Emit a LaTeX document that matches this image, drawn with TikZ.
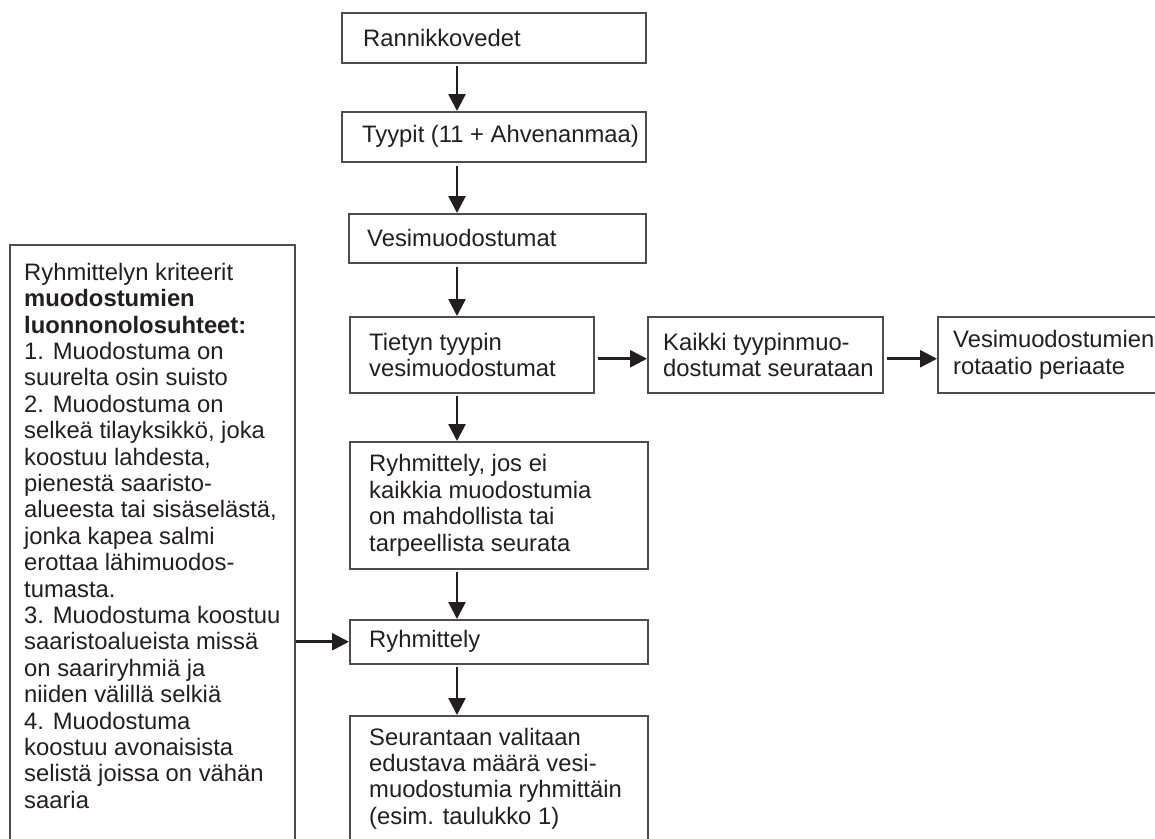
\documentclass[tikz,border=0pt]{standalone}
\usepackage{fontspec}
\setmainfont{Liberation Sans}
\usetikzlibrary{arrows.meta}
\definecolor{boxc}{HTML}{4D4D4D}
\definecolor{txtc}{HTML}{231F20}
\begin{document}
\begin{tikzpicture}[x=1pt,y=-1pt,
  box/.style={draw=boxc, line width=1.5pt, rectangle, inner sep=0pt, anchor=north west},
  txt/.style={inner sep=0pt, align=left, text=txtc, font=\fontsize{23.8}{26.4}\selectfont},
  arr/.style={draw=txtc, line width=2.6pt, -{Triangle[width=17pt,length=17pt]}}]
\fill[white] (0,0) rectangle (1155,838);
\useasboundingbox (0,0) rectangle (1155,838);
\coordinate (ax) at (457,0);
% boxes
\node[box, minimum width=304pt, minimum height=50pt] (rann) at (341,12) {};
\node[box, minimum width=304pt, minimum height=50pt] (tyyp) at (341,111) {};
\node[box, minimum width=297pt, minimum height=49pt] (vesi) at (348,213) {};
\node[box, minimum width=244pt, minimum height=76pt] (tiet) at (349,316) {};
\node[box, minimum width=235pt, minimum height=76pt] (kaik) at (647,316) {};
\node[box, minimum width=240pt, minimum height=76pt] (rot) at (937,316) {};
\node[box, minimum width=298pt, minimum height=127pt] (ryhj) at (349,441) {};
\node[box, minimum width=298pt, minimum height=44pt] (ryhm) at (349,619) {};
\node[box, minimum width=298pt, minimum height=160pt] (seur) at (349,715) {};
\node[box, minimum width=285pt, minimum height=640pt] (crit) at (9,244) {};
% texts
\node[txt, anchor=west] (t-rann) at ([xshift=22pt]rann.west) {Rannikkovedet};
\node[txt, anchor=west] (t-tyyp) at ([xshift=21pt]tyyp.west) {Tyypit (11 + Ahvenanmaa)};
\node[txt, anchor=west] (t-vesi) at ([xshift=19pt]vesi.west) {Vesimuodostumat};
\node[txt, anchor=west] (t-tiet) at ([xshift=20pt]tiet.west) {Tietyn tyypin\\vesimuodostumat};
\node[txt, anchor=west] (t-kaik) at ([xshift=16pt]kaik.west) {Kaikki tyypinmuo-\\dostumat seurataan};
\node[txt, anchor=west] (t-rot) at ([xshift=16pt]rot.west) {Vesimuodostumien\\rotaatio periaate};
\node[txt, anchor=west] (t-ryhj) at ([xshift=20pt]ryhj.west) {Ryhmittely, jos ei\\kaikkia muodostumia\\on mahdollista tai\\tarpeellista seurata};
\node[txt, anchor=west] (t-ryhm) at ([xshift=20pt]ryhm.west) {Ryhmittely};
\node[txt, anchor=north west] (t-seur) at ([xshift=20pt,yshift=-12.7pt]seur.north west) {Seurantaan valitaan\\edustava määrä vesi-\\muodostumia ryhmittäin\\(esim. taulukko 1)};
\node[txt, anchor=north west] (t-crit) at ([xshift=15pt,yshift=-18.8pt]crit.north west) {Ryhmittelyn kriteerit\\
\textbf{muodostumien}\\
\textbf{luonnonolosuhteet:}\\
1. Muodostuma on\\
suurelta osin suisto\\
2. Muodostuma on\\
selkeä tilayksikkö, joka\\
koostuu lahdesta,\\
pienestä saaristo-\\
alueesta tai sisäselästä,\\
jonka kapea salmi\\
erottaa lähimuodos-\\
tumasta.\\
3. Muodostuma koostuu\\
saaristoalueista missä\\
on saariryhmiä ja\\
niiden välillä selkiä\\
4. Muodostuma\\
koostuu avonaisista\\
selistä joissa on vähän\\
saaria};
% connectors
\draw[arr, shorten <=2pt] (rann.south -| ax) -- (tyyp.north -| ax);
\draw[arr, shorten <=3pt] (tyyp.south -| ax) -- (vesi.north -| ax);
\draw[arr, shorten <=3pt] (vesi.south -| ax) -- (tiet.north -| ax);
\draw[arr, shorten <=2pt] (tiet.south -| ax) -- (ryhj.north -| ax);
\draw[arr, shorten <=2pt] (ryhj.south -| ax) -- (ryhm.north -| ax);
\draw[arr, shorten <=2pt] (ryhm.south -| ax) -- (seur.north -| ax);
\draw[arr, shorten <=3pt] ([yshift=-4pt]tiet.east) -- ([yshift=-4pt]kaik.west);
\draw[arr, shorten <=3pt] ([yshift=-4pt]kaik.east) -- ([yshift=-4pt]rot.west);
\draw[arr] (crit.east |- ryhm.west) -- (ryhm.west);
\end{tikzpicture}
\end{document}
